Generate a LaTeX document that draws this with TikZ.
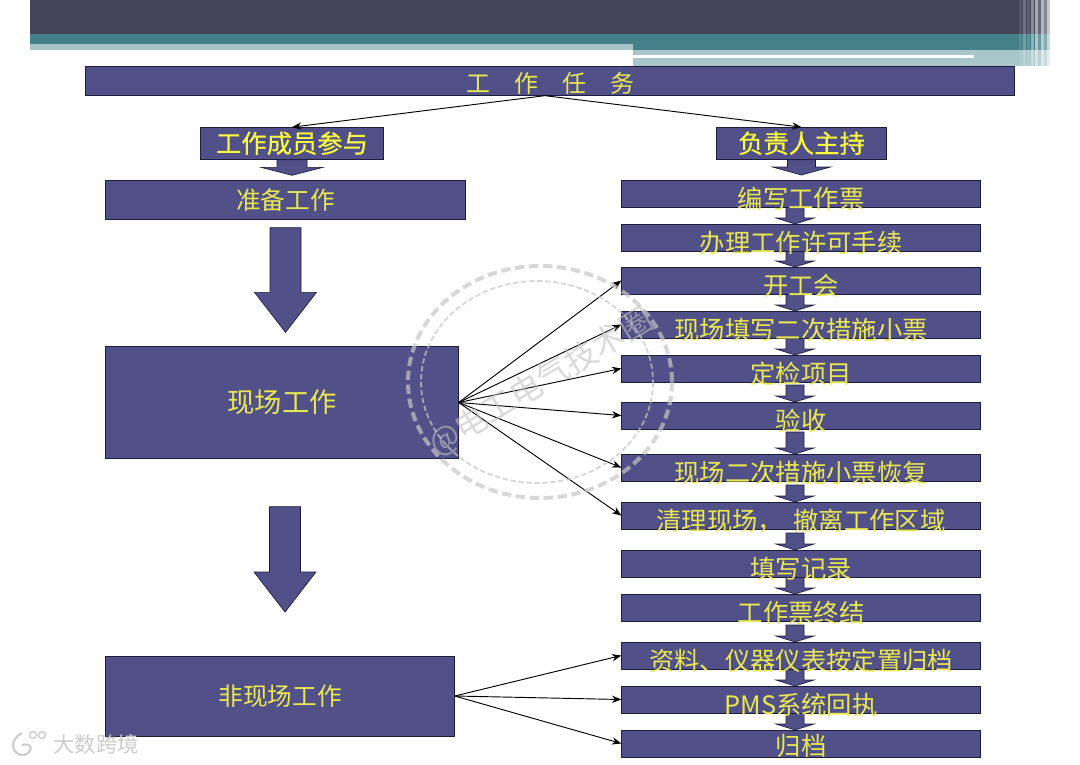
\documentclass[tikz,border=0pt]{standalone}
\usepackage{fontspec}
\setmainfont{Noto Sans CJK SC}
\usepackage{tikz}
\usetikzlibrary{positioning,calc,backgrounds,arrows.meta}
\usepackage{xcolor}

\definecolor{boxblue}{RGB}{82,80,136}
\definecolor{boxline}{RGB}{30,30,60}
\definecolor{boxtext}{RGB}{232,232,80}
\definecolor{bandnavy}{RGB}{68,68,90}
\definecolor{bandteal}{RGB}{69,128,136}
\definecolor{bandpale}{RGB}{168,198,202}

% text that hangs low in its box
\newcommand{\lowtext}[2][-11pt]{\smash{\raisebox{#1}{#2}}}
% from, to, x offset, start gap, end gap, shaft half, head half, head length
\newcommand{\blockarrow}[8]{
  \coordinate (arrowtop) at ($(#1.south)+(#3,#4)$);
  \coordinate (arrowtip) at ($(arrowtop |- #2.north)+(0,-#5)$);
  \draw[blockline] ($(arrowtop)+(-#6,0)$) -- ($(arrowtip)+(-#6,-#8)$) -- ($(arrowtip)+(-#7,-#8)$) -- (arrowtip)
    -- ($(arrowtip)+(#7,-#8)$) -- ($(arrowtip)+(#6,-#8)$) -- ($(arrowtop)+(#6,0)$) -- cycle;
}
\newcommand{\stepdown}[3]{\blockarrow{#1}{#2}{-6}{#3}{0}{9}{19}{6}}

\begin{document}
\begin{tikzpicture}[
  x=0.75pt, y=-0.75pt,
  box/.style={rectangle, draw=boxline, fill=boxblue, line width=0.6pt, inner sep=0pt, outer sep=0pt, text=boxtext, align=center},
  stepbox/.style={box, minimum width=269.5pt, minimum height=20.25pt, font=\fontsize{19pt}{21pt}\selectfont},
  headbox/.style={box, minimum height=24.5pt, font=\fontsize{19pt}{21pt}\selectfont\addfontfeature{FakeBold=0.5}, text={rgb,255:red,250;green,250;blue,60}},
  arrow/.style={-{Stealth[length=7pt,width=5.5pt]}, line width=0.7pt, black},
  blockline/.style={draw=boxline, fill=boxblue, line width=0.5pt},
  markcircle/.style={draw=gray!45, opacity=0.7}
]
  \useasboundingbox (0,0) rectangle (1080,764);

  % slide header
  \fill[bandnavy] (30,0) rectangle (1050,34);
  \fill[bandteal] (30,34) rectangle (1050,50);
  \fill[bandpale] (30,44) rectangle (633,50);
  \fill[bandpale] (633,50) rectangle (1050,66);
  \fill[white] (633,55) rectangle (974,58);
  \foreach \x/\o in {1019/0.1,1023/0.25,1027/0.15,1031/0.4,1035/0.55,1038/0.2,1041/0.6,1044/0.35,1047/0.7}
    \fill[white, opacity=\o] (\x,0) rectangle (\x+3,68);

  \node[box, minimum width=697pt, minimum height=22pt, font=\fontsize{18pt}{20pt}\selectfont] (task) at (550,81) {\lowtext[-8.5pt]{工\quad 作\quad 任\quad 务}};
  \node[headbox, minimum width=137.5pt] (members) at (292,143.5) {\lowtext[-7pt]{工作成员参与}};
  \node[headbox, minimum width=127.75pt] (leader) at (801.5,143.5) {\lowtext[-7pt]{负责人主持}};

  % left column
  \node[box, minimum width=270.25pt, minimum height=29.5pt, font=\fontsize{18.5pt}{20pt}\selectfont] (prep) at (285.5,200) {准备工作};
  \node[box, minimum width=265pt, minimum height=84.25pt, font=\fontsize{20.5pt}{22pt}\selectfont] (onsite) at (282,402.5) {现场工作};
  \node[box, minimum width=262pt, minimum height=60pt, font=\fontsize{18.5pt}{20pt}\selectfont] (offsite) at (280,696) {非现场工作};

  % right column
  \node[stepbox] (ticket) at (801,193.5) {\lowtext{编写工作票}};
  \node[stepbox, below=12.75pt of ticket] (permit) {\lowtext{办理工作许可手续}};
  \node[stepbox, below=12pt of permit] (kickoff) {\lowtext{开工会}};
  \node[stepbox, below=12.75pt of kickoff] (fillsheet) {\lowtext{现场填写二次措施小票}};
  \node[stepbox, below=12.75pt of fillsheet] (items) {\lowtext{定检项目}};
  \node[stepbox, below=15pt of items] (accept) {\lowtext{验收}};
  \node[stepbox, below=18.75pt of accept] (restore) {\lowtext{现场二次措施小票恢复}};
  \node[stepbox, below=15.75pt of restore] (cleanup) {\lowtext{清理现场，\hspace{0.4em}撤离工作区域}};
  \node[stepbox, below=15.75pt of cleanup] (record) {\lowtext{填写记录}};
  \node[stepbox, below=12.75pt of record] (finish) {\lowtext{工作票终结}};
  \node[stepbox, below=15.75pt of finish] (archive) {\lowtext{资料、仪器仪表按定置归档}};
  \node[stepbox, below=12.75pt of archive] (pms) {\lowtext{PMS系统回执}};
  \node[stepbox, below=12.75pt of pms] (filing) {\lowtext[-9pt]{归档}};

  \begin{scope}[on background layer]
    \blockarrow{members}{prep}{0}{0}{5}{15}{31}{8}
    \blockarrow{leader}{ticket}{0}{0}{5}{14}{29}{8}
    \blockarrow{prep}{onsite}{0}{8}{14}{15.5}{31}{40}
    \blockarrow{onsite}{offsite}{3}{48}{44}{15.5}{31}{40}
    \stepdown{ticket}{permit}{0}
    \stepdown{permit}{kickoff}{0}
    \stepdown{kickoff}{fillsheet}{0}
    \stepdown{fillsheet}{items}{0}
    \stepdown{items}{accept}{3}
    \stepdown{accept}{restore}{3}
    \stepdown{restore}{cleanup}{4}
    \stepdown{cleanup}{record}{4}
    \stepdown{record}{finish}{0}
    \stepdown{finish}{archive}{4}
    \stepdown{archive}{pms}{0}
    \stepdown{pms}{filing}{0}
  \end{scope}

  \draw[arrow] ([xshift=-3.75pt]task.south) -- (members.north);
  \draw[arrow] ([xshift=-3.75pt]task.south) -- (leader.north);
  \foreach \target in {kickoff,fillsheet,items,accept,restore,cleanup}
    \draw[arrow] (onsite.east) -- (\target.west);
  \foreach \target in {archive,pms,filing}
    \draw[arrow] (offsite.east) -- (\target.west);

  % watermarks
  \draw[markcircle, line width=3pt, dash pattern=on 7pt off 3.5pt] (540,382) ellipse [x radius=132, y radius=116];
  \draw[markcircle, line width=1.4pt, dash pattern=on 4pt off 2pt] (537,382) ellipse [x radius=116, y radius=101];
  \node[text=gray!50, opacity=0.6, rotate=31, font=\fontsize{24pt}{26pt}\selectfont] (markname) at (541,382) {@电工电气技术圈};
  \node[text=gray!40, font=\fontsize{16pt}{18pt}\selectfont] (brand) at (96,744) {大数跨境};
  \draw[gray!40, line width=1.6pt] (22,733) .. controls (8,740) and (12,756) .. (24,755) .. controls (34,752) and (32,742) .. (22,745);
  \draw[gray!40, line width=1pt] (33,735) circle [radius=3.5] (42,735) circle [radius=3.5];
\end{tikzpicture}
\end{document}
